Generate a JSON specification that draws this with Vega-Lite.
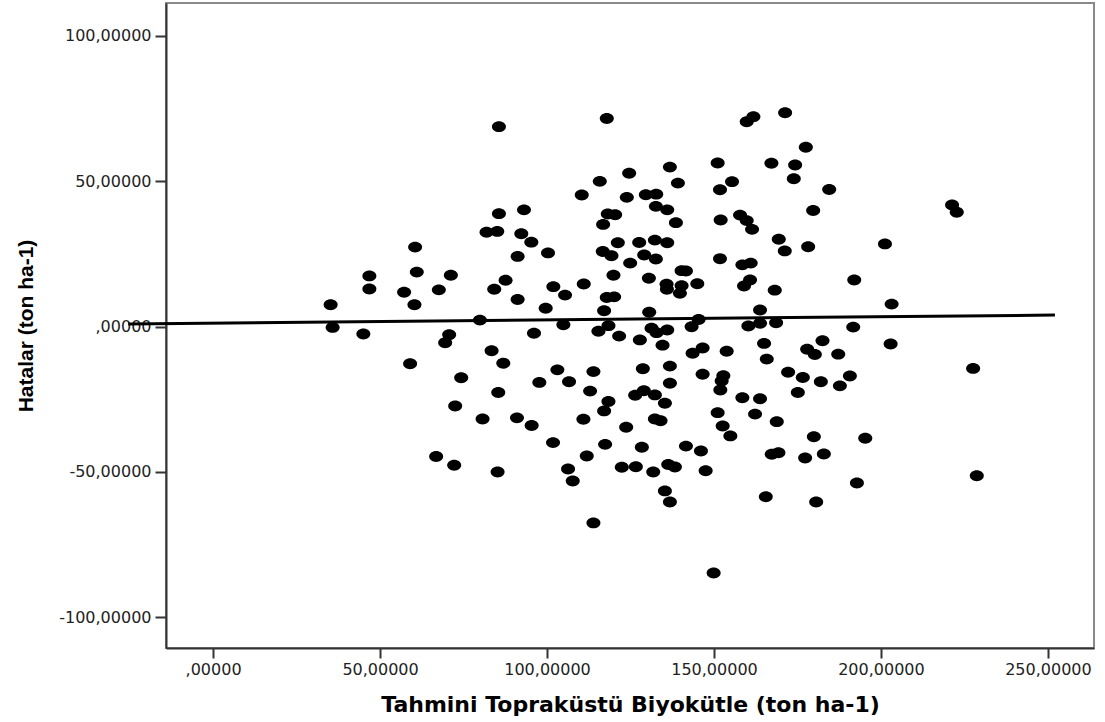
{
  "$schema": "https://vega.github.io/schema/vega-lite/v6.json",
  "width": 928,
  "height": 645,
  "autosize": {"type": "none"},
  "padding": {"left": 166, "top": 3, "right": 11, "bottom": 74},
  "background": "white",
  "config": {
    "view": {"stroke": "#8a8a8a", "strokeWidth": 2},
    "axis": {
      "grid": false,
      "domainColor": "#333",
      "domainWidth": 2,
      "tickColor": "#333",
      "tickWidth": 2,
      "labelFont": "DejaVu Sans",
      "labelFontSize": 16,
      "labelColor": "#222",
      "titleColor": "#000"
    }
  },
  "datasets": {
    "pts": [
      {"x":85.6,"y":68.7},{"x":85.6,"y":38.8},{"x":93.1,"y":40.1},{"x":81.9,"y":32.4},{"x":85.1,"y":32.7},{"x":92.3,"y":31.9},{"x":95.3,"y":29.0},{"x":91.2,"y":24.1},{"x":100.3,"y":25.3},{"x":60.5,"y":27.3},{"x":61.0,"y":18.7},{"x":46.8,"y":17.4},{"x":46.8,"y":12.9},{"x":57.2,"y":11.8},{"x":60.3,"y":7.5},{"x":67.6,"y":12.6},{"x":71.2,"y":17.6},{"x":35.2,"y":7.5},{"x":84.2,"y":12.8},{"x":87.6,"y":15.9},{"x":91.2,"y":9.3},{"x":99.6,"y":6.3},{"x":79.9,"y":2.2},{"x":35.8,"y":-0.3},
      {"x":117.9,"y":71.5},{"x":159.8,"y":70.4},{"x":161.8,"y":72.1},{"x":171.3,"y":73.5},{"x":177.5,"y":61.6},{"x":151.1,"y":56.2},{"x":167.2,"y":56.1},{"x":174.3,"y":55.5},{"x":173.9,"y":50.8},{"x":136.8,"y":54.8},{"x":124.6,"y":52.7},{"x":115.8,"y":49.9},{"x":139.2,"y":49.3},{"x":151.8,"y":47.0},{"x":155.4,"y":49.8},{"x":110.4,"y":45.2},{"x":123.9,"y":44.4},{"x":129.6,"y":45.3},{"x":132.7,"y":45.5},{"x":132.6,"y":41.3},{"x":136.0,"y":40.1},{"x":138.6,"y":35.7},{"x":118.2,"y":38.7},{"x":120.4,"y":38.4},{"x":116.8,"y":35.1},{"x":152.0,"y":36.6},{"x":157.8,"y":38.3},{"x":159.8,"y":36.4},{"x":161.4,"y":33.4},{"x":179.7,"y":39.9},{"x":169.4,"y":30.0},{"x":171.2,"y":26.0},{"x":178.2,"y":27.4},{"x":121.2,"y":28.8},{"x":127.6,"y":28.9},{"x":132.3,"y":29.7},{"x":136.0,"y":28.8},{"x":116.7,"y":25.8},{"x":119.3,"y":24.3},{"x":124.9,"y":21.8},{"x":129.1,"y":24.6},{"x":132.6,"y":23.2},{"x":151.8,"y":23.3},{"x":158.5,"y":21.2},{"x":161.0,"y":21.8},{"x":119.9,"y":17.6},{"x":130.5,"y":16.6},{"x":140.3,"y":19.2},{"x":141.6,"y":19.1},{"x":135.8,"y":14.5},{"x":135.9,"y":12.8},{"x":140.3,"y":14.0},{"x":139.8,"y":11.4},{"x":145.0,"y":14.7},{"x":159.0,"y":13.9},{"x":160.8,"y":16.0},{"x":168.2,"y":12.5},{"x":111.0,"y":14.6},{"x":101.9,"y":13.7},{"x":105.4,"y":10.8},{"x":117.9,"y":10.0},{"x":120.1,"y":10.2},{"x":117.1,"y":5.4},{"x":130.6,"y":4.9},{"x":163.8,"y":5.7},{"x":145.4,"y":2.4},
      {"x":184.5,"y":47.1},{"x":221.3,"y":41.8},{"x":222.7,"y":39.3},{"x":201.2,"y":28.4},{"x":192.0,"y":16.0},{"x":203.2,"y":7.7},{"x":191.7,"y":-0.2},{"x":202.9,"y":-6.0},{"x":182.5,"y":-4.9},{"x":177.9,"y":-7.8},{"x":180.2,"y":-9.6},{"x":187.2,"y":-9.5},{"x":227.6,"y":-14.4},{"x":176.6,"y":-17.5},{"x":182.0,"y":-19.0},{"x":187.7,"y":-20.4},{"x":190.7,"y":-17.0},{"x":175.1,"y":-22.7},{"x":179.9,"y":-37.9},{"x":195.3,"y":-38.4},{"x":177.3,"y":-45.2},{"x":182.9,"y":-43.8},{"x":228.7,"y":-51.3},{"x":192.8,"y":-53.8},{"x":180.6,"y":-60.3},
      {"x":104.9,"y":0.6},{"x":115.4,"y":-1.6},{"x":118.4,"y":0.3},{"x":121.6,"y":-3.3},{"x":127.8,"y":-4.6},{"x":131.3,"y":-0.6},{"x":132.8,"y":-2.1},{"x":136.0,"y":-1.2},{"x":134.6,"y":-6.4},{"x":143.3,"y":-0.1},{"x":160.3,"y":0.2},{"x":163.8,"y":1.1},{"x":168.6,"y":1.3},{"x":143.6,"y":-9.2},{"x":146.6,"y":-7.4},{"x":153.8,"y":-8.5},{"x":165.0,"y":-5.8},{"x":165.8,"y":-11.2},{"x":103.1,"y":-14.9},{"x":106.6,"y":-19.0},{"x":113.9,"y":-15.5},{"x":112.9,"y":-22.2},{"x":118.4,"y":-25.8},{"x":117.1,"y":-29.0},{"x":110.9,"y":-31.9},{"x":128.7,"y":-14.5},{"x":136.8,"y":-13.6},{"x":136.8,"y":-19.5},{"x":146.6,"y":-16.4},{"x":152.8,"y":-16.9},{"x":152.3,"y":-18.7},{"x":151.9,"y":-21.8},{"x":126.4,"y":-23.6},{"x":129.0,"y":-22.1},{"x":132.3,"y":-23.5},{"x":135.3,"y":-26.4},{"x":132.3,"y":-31.8},{"x":134.0,"y":-32.4},{"x":123.7,"y":-34.6},{"x":151.1,"y":-29.6},{"x":152.6,"y":-34.2},{"x":154.9,"y":-37.6},{"x":158.5,"y":-24.5},{"x":163.8,"y":-24.8},{"x":162.3,"y":-30.1},{"x":172.2,"y":-15.7},{"x":168.8,"y":-32.7},{"x":101.8,"y":-39.9},{"x":111.9,"y":-44.5},{"x":117.4,"y":-40.5},{"x":128.4,"y":-41.5},{"x":141.6,"y":-41.1},{"x":146.1,"y":-42.8},{"x":106.3,"y":-49.0},{"x":107.7,"y":-53.1},{"x":122.4,"y":-48.4},{"x":126.6,"y":-48.2},{"x":131.8,"y":-50.0},{"x":136.3,"y":-47.4},{"x":138.3,"y":-48.3},{"x":147.5,"y":-49.6},{"x":167.3,"y":-43.9},{"x":169.3,"y":-43.4},{"x":135.3,"y":-56.5},{"x":136.8,"y":-60.3},{"x":165.5,"y":-58.5},{"x":113.9,"y":-67.5},{"x":149.9,"y":-84.7},
      {"x":45.0,"y":-2.6},{"x":70.7,"y":-2.8},{"x":69.5,"y":-5.6},{"x":96.1,"y":-2.3},{"x":83.4,"y":-8.3},{"x":86.9,"y":-12.6},{"x":59.0,"y":-12.8},{"x":74.3,"y":-17.6},{"x":97.7,"y":-19.2},{"x":85.4,"y":-22.7},{"x":72.5,"y":-27.3},{"x":80.7,"y":-31.8},{"x":91.0,"y":-31.4},{"x":95.4,"y":-34.0},{"x":66.8,"y":-44.7},{"x":72.2,"y":-47.7},{"x":85.2,"y":-50.0}
    ],
    "fit": [
      {"x": -25.4, "y": 0.86},
      {"x": 252.1, "y": 3.95}
    ]
  },
  "layer": [
    {
      "data": {"name": "pts"},
      "mark": {
        "type": "point",
        "shape": "M-1,0A1,0.78,0,1,1,1,0A1,0.78,0,1,1,-1,0Z",
        "filled": true,
        "color": "#000",
        "opacity": 1,
        "size": 196
      },
      "encoding": {
        "x": {
          "field": "x",
          "type": "quantitative",
          "scale": {"domain": [-14.1, 263.8], "nice": false, "zero": false},
          "axis": {
            "values": [0, 50, 100, 150, 200, 250],
            "labelExpr": "(datum.value < 0 ? '-' : '') + (datum.value == 0 ? '' : format(abs(datum.value), 'd')) + ',00000'",
            "tickSize": 10,
            "labelPadding": 3,
            "title": "Tahmini Topraküstü Biyokütle (ton ha-1)",
            "titleFont": "DejaVu Sans",
            "titleFontSize": 22,
            "titleFontWeight": "bold",
            "titleBaseline": "alphabetic",
            "titleY": 63
          }
        },
        "y": {
          "field": "y",
          "type": "quantitative",
          "scale": {"domain": [-110.5, 111.2], "nice": false, "zero": false},
          "axis": {
            "values": [-100, -50, 0, 50, 100],
            "labelExpr": "(datum.value < 0 ? '-' : '') + (datum.value == 0 ? '' : format(abs(datum.value), 'd')) + ',00000'",
            "tickSize": 11,
            "labelPadding": 4,
            "title": "Hatalar (ton ha-1)",
            "titleFont": "Liberation Sans",
            "titleFontSize": 21,
            "titleFontWeight": "bold",
            "titleAngle": -90,
            "titleBaseline": "alphabetic",
            "titleAlign": "center",
            "titleX": -134,
            "titleY": 322.5
          }
        }
      }
    },
    {
      "data": {"name": "fit"},
      "mark": {"type": "line", "color": "#000", "strokeWidth": 3, "clip": false},
      "encoding": {
        "x": {"field": "x", "type": "quantitative"},
        "y": {"field": "y", "type": "quantitative"}
      }
    }
  ]
}
